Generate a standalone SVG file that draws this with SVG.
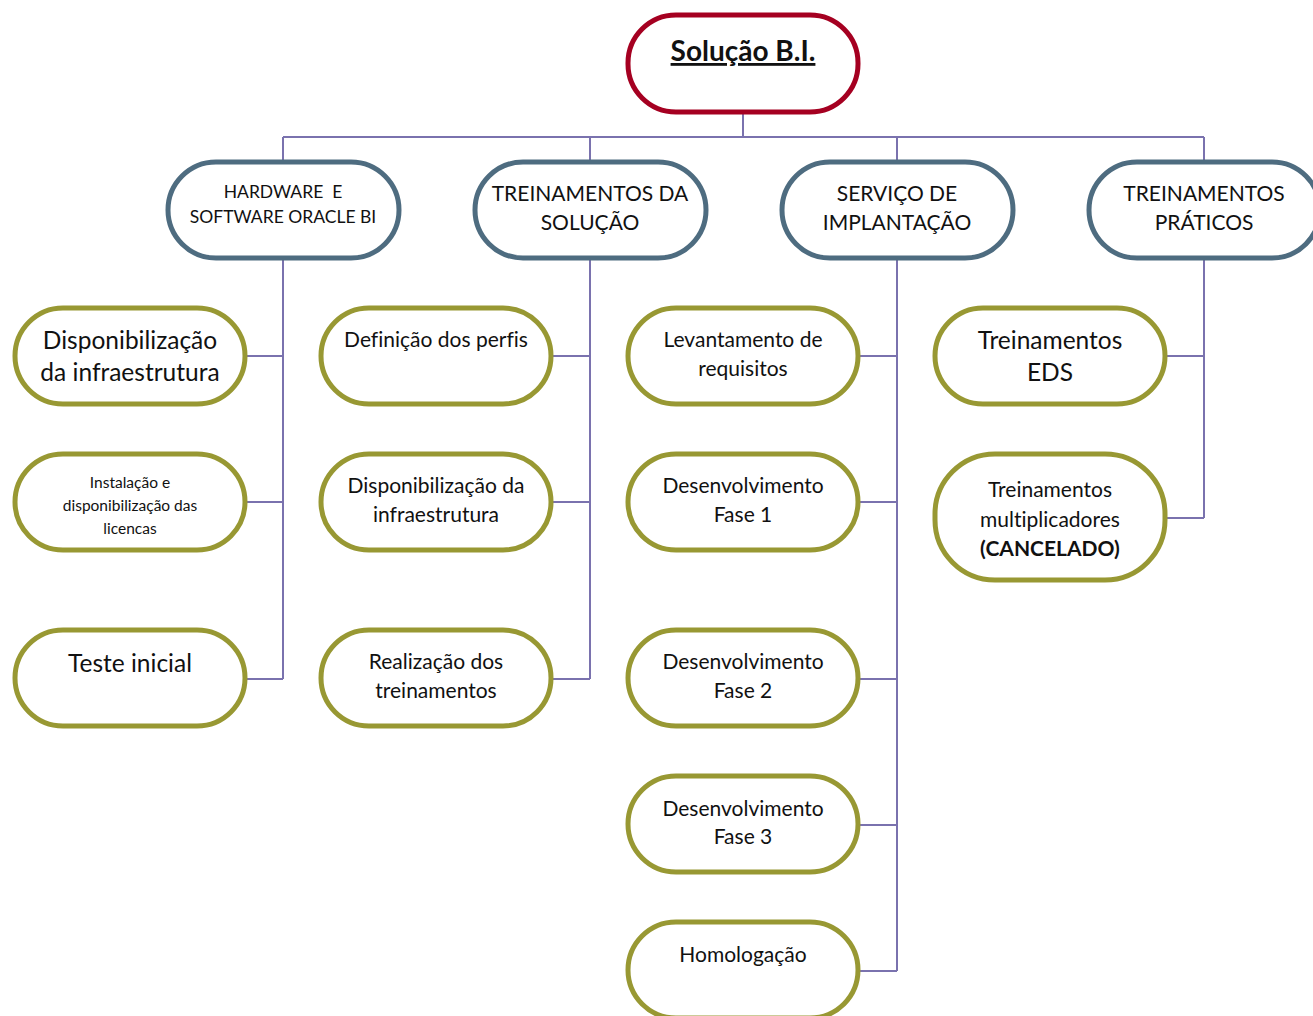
<svg xmlns="http://www.w3.org/2000/svg" width="1313" height="1016" viewBox="0 0 1313 1016">
<style>
.root{fill:#fff;stroke:#A50021;stroke-width:5}
.l1{fill:#fff;stroke:#4E6C80;stroke-width:5}
.l2{fill:#fff;stroke:#989833;stroke-width:5}
.c{fill:none;stroke:#7A72AE;stroke-width:2}
text{font-family:Lato,"Liberation Sans",sans-serif;fill:#111;text-anchor:middle;white-space:pre;font-variant-ligatures:none}
.t20{font-size:21px}
.t23{font-size:24.5px}
.t16{font-size:17.5px}
.t15{font-size:15.5px}
</style>
<rect width="1313" height="1016" fill="#fff"/>
<g id="connectors">
<path class="c" d="M743 113V137M283 137H1204M283 137V161M590 137V161M897 137V161M1204 137V161"/>
<path class="c" d="M283 259V679M246 356H283M246 502H283M246 679H283"/>
<path class="c" d="M590 259V679M552 356H590M552 502H590M552 679H590"/>
<path class="c" d="M897 259V971M859 356H897M859 502H897M859 679H897M859 825H897M859 971H897"/>
<path class="c" d="M1204 259V518M1166 356H1204M1166 518H1204"/>
</g>
<g id="root">
<rect class="root" x="628" y="15" width="230" height="97" rx="48"/>
<text x="743" y="61" style="font-size:28px;font-weight:bold;text-decoration:underline">Solução B.I.</text>
</g>
<g id="hw">
<rect class="l1" x="168" y="162" width="231" height="96" rx="48"/>
<text class="t16" x="283" y="198" xml:space="preserve">HARDWARE  E</text>
<text class="t16" x="283" y="223">SOFTWARE ORACLE BI</text>
</g>
<g id="treinSol">
<rect class="l1" x="475" y="162" width="231" height="96" rx="48"/>
<text class="t20" x="590" y="201">TREINAMENTOS DA</text>
<text class="t20" x="590" y="230">SOLUÇÃO</text>
</g>
<g id="servico">
<rect class="l1" x="782" y="162" width="231" height="96" rx="48"/>
<text class="t20" x="897" y="201">SERVIÇO DE</text>
<text class="t20" x="897" y="230">IMPLANTAÇÃO</text>
</g>
<g id="praticos">
<rect class="l1" x="1089" y="162" width="231" height="96" rx="48"/>
<text class="t20" x="1204" y="201">TREINAMENTOS</text>
<text class="t20" x="1204" y="230">PRÁTICOS</text>
</g>
<g id="n11">
<rect class="l2" x="15" y="308" width="230" height="96" rx="48"/>
<text class="t23" x="130" y="349">Disponibilização</text>
<text class="t23" x="130" y="381">da infraestrutura</text>
</g>
<g id="n12">
<rect class="l2" x="15" y="454" width="230" height="96" rx="48"/>
<text class="t15" x="130" y="488">Instalação e</text>
<text class="t15" x="130" y="511">disponibilização das</text>
<text class="t15" x="130" y="534">licencas</text>
</g>
<g id="n13">
<rect class="l2" x="15" y="630" width="230" height="96" rx="48"/>
<text class="t23" x="130" y="672">Teste inicial</text>
</g>
<g id="n21">
<rect class="l2" x="321" y="308" width="230" height="96" rx="48"/>
<text class="t20" x="436" y="347">Definição dos perfis</text>
</g>
<g id="n22">
<rect class="l2" x="321" y="454" width="230" height="96" rx="48"/>
<text class="t20" x="436" y="493">Disponibilização da</text>
<text class="t20" x="436" y="522">infraestrutura</text>
</g>
<g id="n23">
<rect class="l2" x="321" y="630" width="230" height="96" rx="48"/>
<text class="t20" x="436" y="669">Realização dos</text>
<text class="t20" x="436" y="698">treinamentos</text>
</g>
<g id="n31">
<rect class="l2" x="628" y="308" width="230" height="96" rx="48"/>
<text class="t20" x="743" y="347">Levantamento de</text>
<text class="t20" x="743" y="376">requisitos</text>
</g>
<g id="n32">
<rect class="l2" x="628" y="454" width="230" height="96" rx="48"/>
<text class="t20" x="743" y="493">Desenvolvimento</text>
<text class="t20" x="743" y="522">Fase 1</text>
</g>
<g id="n33">
<rect class="l2" x="628" y="630" width="230" height="96" rx="48"/>
<text class="t20" x="743" y="669">Desenvolvimento</text>
<text class="t20" x="743" y="698">Fase 2</text>
</g>
<g id="n34">
<rect class="l2" x="628" y="776" width="230" height="96" rx="48"/>
<text class="t20" x="743" y="816">Desenvolvimento</text>
<text class="t20" x="743" y="844">Fase 3</text>
</g>
<g id="n35">
<rect class="l2" x="628" y="922" width="230" height="96" rx="48"/>
<text class="t20" x="743" y="962">Homologação</text>
</g>
<g id="n41">
<rect class="l2" x="935" y="308" width="230" height="96" rx="48"/>
<text class="t23" x="1050" y="349">Treinamentos</text>
<text class="t23" x="1050" y="381">EDS</text>
</g>
<g id="n42">
<rect class="l2" x="935" y="454" width="230" height="126" rx="60"/>
<text class="t20" x="1050" y="497">Treinamentos</text>
<text class="t20" x="1050" y="527">multiplicadores</text>
<text class="t20" x="1050" y="556" font-weight="bold">(CANCELADO)</text>
</g>
</svg>
